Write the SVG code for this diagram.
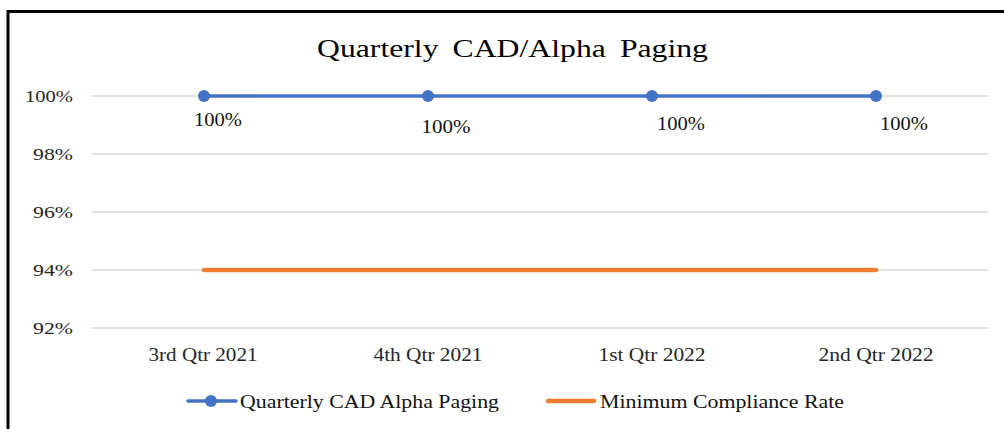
<svg xmlns="http://www.w3.org/2000/svg" width="1004" height="429" viewBox="0 0 1004 429">
  <style>
    .t { font-family: "Liberation Serif", "Times New Roman", serif; fill: #262626; }
    .title { font-size: 26px; fill: #000; word-spacing: 5px; }
    .ax { font-size: 17.5px; text-anchor: end; }
    .cat { font-size: 18.5px; text-anchor: middle; }
    .dl { font-size: 18.5px; text-anchor: middle; fill: #111; }
    .lg { font-size: 18.5px; fill: #111; }
    .grid { stroke: #d9d9d9; stroke-width: 1.3; }
    .s1 { stroke: #4472c4; stroke-width: 3.5; fill: none; stroke-linecap: round; }
    .s2 { stroke: #ed7d31; stroke-width: 4.5; fill: none; stroke-linecap: round; }
    .mk { fill: #4472c4; }
  </style>

  <rect width="1004" height="429" fill="#fff"/>
  <!-- chart frame: top and left edges only -->
  <path d="M8 429 V11.5 H1004" fill="none" stroke="#000" stroke-width="3"/>

  <text class="t title" x="512.5" y="57" text-anchor="middle" textLength="391" lengthAdjust="spacingAndGlyphs">Quarterly CAD/Alpha Paging</text>

  <!-- gridlines -->
  <g id="grid">
    <line class="grid" x1="92" y1="96" x2="988" y2="96"/>
    <line class="grid" x1="92" y1="154" x2="988" y2="154"/>
    <line class="grid" x1="92" y1="212" x2="988" y2="212"/>
    <line class="grid" x1="92" y1="270" x2="988" y2="270"/>
    <line class="grid" x1="92" y1="328" x2="988" y2="328"/>
  </g>

  <!-- value axis -->
  <g id="y-axis">
    <text class="t ax" x="73" y="102" textLength="48" lengthAdjust="spacingAndGlyphs">100%</text>
    <text class="t ax" x="73" y="160" textLength="40" lengthAdjust="spacingAndGlyphs">98%</text>
    <text class="t ax" x="73" y="218" textLength="40" lengthAdjust="spacingAndGlyphs">96%</text>
    <text class="t ax" x="73" y="276" textLength="40" lengthAdjust="spacingAndGlyphs">94%</text>
    <text class="t ax" x="73" y="334" textLength="40" lengthAdjust="spacingAndGlyphs">92%</text>
  </g>

  <!-- category axis -->
  <g id="x-axis">
    <text class="t cat" x="203" y="361" textLength="109" lengthAdjust="spacingAndGlyphs">3rd Qtr 2021</text>
    <text class="t cat" x="428" y="361" textLength="109" lengthAdjust="spacingAndGlyphs">4th Qtr 2021</text>
    <text class="t cat" x="652" y="361" textLength="107" lengthAdjust="spacingAndGlyphs">1st Qtr 2022</text>
    <text class="t cat" x="876" y="361" textLength="115" lengthAdjust="spacingAndGlyphs">2nd Qtr 2022</text>
  </g>

  <!-- series -->
  <g id="series-min">
    <line class="s2" x1="204" y1="270" x2="876" y2="270"/>
  </g>
  <g id="series-paging">
    <line class="s1" x1="204" y1="96" x2="876" y2="96"/>
    <circle class="mk" cx="204" cy="96" r="6"/>
    <circle class="mk" cx="428" cy="96" r="6"/>
    <circle class="mk" cx="652" cy="96" r="6"/>
    <circle class="mk" cx="876" cy="96" r="6"/>
    <text class="t dl" x="218" y="126" textLength="48" lengthAdjust="spacingAndGlyphs">100%</text>
    <text class="t dl" x="446" y="133" textLength="49" lengthAdjust="spacingAndGlyphs">100%</text>
    <text class="t dl" x="681" y="130" textLength="48" lengthAdjust="spacingAndGlyphs">100%</text>
    <text class="t dl" x="904" y="130" textLength="48" lengthAdjust="spacingAndGlyphs">100%</text>
  </g>

  <!-- legend -->
  <g id="legend">
    <line class="s1" x1="188" y1="401" x2="236" y2="401"/>
    <circle class="mk" cx="211" cy="401" r="6"/>
    <text class="t lg" x="240" y="408" textLength="259" lengthAdjust="spacingAndGlyphs">Quarterly CAD Alpha Paging</text>
    <line class="s2" x1="548" y1="401" x2="594" y2="401"/>
    <text class="t lg" x="600" y="408" textLength="244" lengthAdjust="spacingAndGlyphs">Minimum Compliance Rate</text>
  </g>
</svg>
